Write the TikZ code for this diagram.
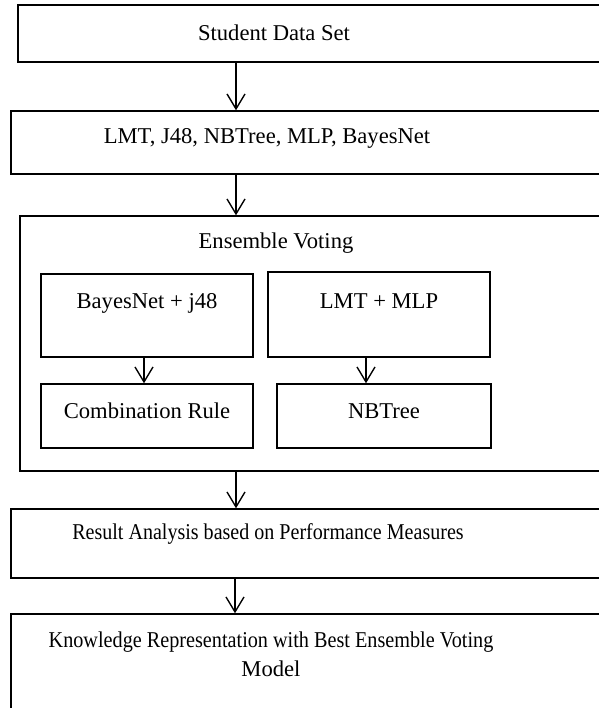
\documentclass[tikz,border=0pt]{standalone}
\usepackage{fontspec}
\setmainfont{Liberation Serif}
\usepackage{graphicx}
\usepackage{tikz}
\usetikzlibrary{arrows.meta,positioning}

\begin{document}
\begin{tikzpicture}[x=0.5pt,y=-0.5pt,>={Straight Barb[length=7.5pt,width=9pt]},
  box/.style={draw,line width=0.7pt,minimum width=#1,inner sep=0pt},
  txt/.style={font=\fontsize{11.3}{14.5}\selectfont,inner sep=0pt,align=center},
  link/.style={->,line width=0.7pt}]
\clip (0,0) rectangle (599,708);
\fill[white] (0,0) rectangle (599,708);
% outer boxes
\node[box=301pt,minimum height=28.5pt] (sds) at (319,33.5) {};
\node[box=304.5pt,minimum height=31.5pt] (algo) at (315.5,142.5) {};
\node[box=300pt,minimum height=127.5pt] (ens) at (320,343.5) {};
\node[box=304.5pt,minimum height=34.5pt] (res) at (315.5,543.5) {};
\node[box=304.5pt,minimum height=63pt] (know) at (315.5,677) {};
% inner boxes
\node[box=106pt,minimum height=41.5pt] (bj) at (147,315.5) {};
\node[box=111pt,minimum height=42.5pt] (lm) at (379,314.5) {};
\node[box=106pt,minimum height=32pt] (comb) at (147,416) {};
\node[box=107pt,minimum height=32pt] (nbt) at (384,416) {};
% texts
\node[txt] (t1) at (274,33) {Student Data Set};
\node[txt] (t2) at (267,138) {LMT, J48, NBTree, MLP, BayesNet};
\node[txt] (t3) at (276,243) {Ensemble Voting};
\node[txt] (t4) at (147,303) {BayesNet + j48};
\node[txt] (t5) at (379,301) {LMT + MLP};
\node[txt] (t6) at (147,411) {Combination Rule};
\node[txt] (t7) at (384,411) {NBTree};
\node[txt] (t8) at (268,534) {\scalebox{0.887}[1]{Result Analysis based on Performance Measures}};
\node[txt] (t9) at (271,654) {\scalebox{0.894}[1]{Knowledge Representation with Best Ensemble Voting}\\Model};
% arrows
\draw[link] (236,0 |- sds.south) -- (236,0 |- algo.north);
\draw[link] (236,0 |- algo.south) -- (236,0 |- ens.north);
\draw[link] (144,0 |- bj.south) -- (144,0 |- comb.north);
\draw[link] (366,0 |- lm.south) -- (366,0 |- nbt.north);
\draw[link] (236,0 |- ens.south) -- (236,0 |- res.north);
\draw[link] (235,0 |- res.south) -- (235,0 |- know.north);
\end{tikzpicture}
\end{document}
